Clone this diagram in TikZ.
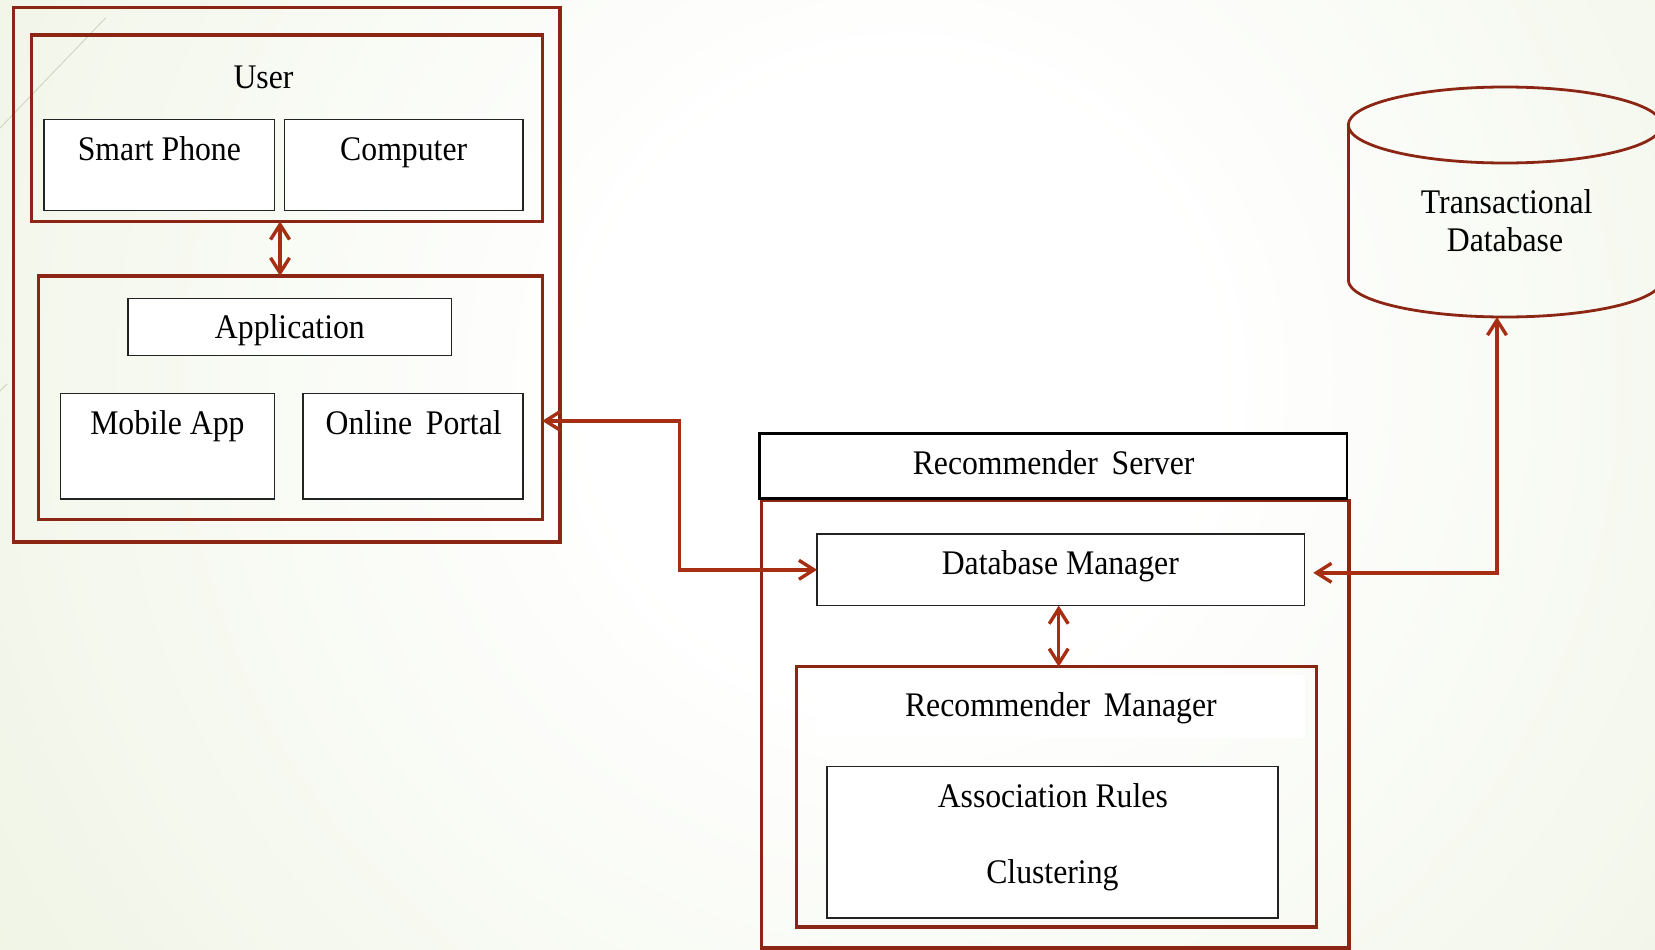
\documentclass[tikz,border=0pt]{standalone}
\usepackage{fontspec}
\setmainfont{Liberation Serif}[FakeStretch=0.92]
\usetikzlibrary{arrows.meta,calc,fit}

\definecolor{boxred}{RGB}{140,38,20}
\definecolor{arrred}{RGB}{166,46,18}
\definecolor{paper}{RGB}{230,238,214}
\definecolor{thinline}{RGB}{35,35,35}
\definecolor{decoline}{RGB}{200,210,188}

% wider gap used between some words
\newcommand{\widegap}{\hspace{0.4em}}

% soft glow: white in the middle, pale green towards the edges
\pgfdeclareradialshading{bgglow}{\pgfpoint{0bp}{0bp}}{%
  color(0bp)=(white); color(5bp)=(white); color(25bp)=(paper); color(50bp)=(paper)}

\begin{document}
\begin{tikzpicture}[x=1pt,y=-1pt,
  every node/.style={font=\fontsize{34.5}{40}\selectfont, inner sep=0pt, outer sep=0pt},
  label/.style={anchor=base, text=black},
  redframe/.style={draw=boxred, line width=3.3pt, rectangle, inner sep=0pt},
  whitebox/.style={draw=thinline, fill=white, line width=1.4pt, rectangle, inner sep=0pt},
  titlebox/.style={draw=black, fill=white, line width=2.8pt, rectangle, inner sep=0pt},
  link/.style={draw=arrred, line width=3.4pt,
    {Straight Barb[length=15pt,width=19pt]}-{Straight Barb[length=15pt,width=19pt]}},
]
\useasboundingbox (0,0) rectangle (1655,950);
\clip (0,0) rectangle (1655,950);

% background
\shade[shading=bgglow] (900,380) circle (1550pt);
\draw[decoline, line width=0.8pt] (105.5,18) -- (0,128);
\draw[decoline, line width=0.8pt] (7,384) -- (0,391);

% ---- client side ----
\node[redframe, fit={(13.4,7.4) (560,542)}] (client) {};
\node[redframe, fit={(31.8,35) (542.3,221.4)}] (userbox) {};
\node[label] (tuser) at (263.5,88.2) {User};
\node[whitebox, fit={(44,119.6) (274.4,210.7)}] (phone) {};
\node[label] (tphone) at (159.4,160.7) {Smart Phone};
\node[whitebox, fit={(284.3,119.6) (523.1,210.7)}] (computer) {};
\node[label] (tcomputer) at (403.7,160.7) {Computer};

\node[redframe, fit={(38.3,276) (542.3,519.8)}] (appgroup) {};
\node[whitebox, fit={(127.8,298.6) (451.6,355.4)}] (application) {};
\node[label] (tapplication) at (289.9,338.6) {Application};
\node[whitebox, fit={(60.5,393.6) (274.4,499)}] (mobile) {};
\node[label] (tmobile) at (167.4,434) {Mobile App};
\node[whitebox, fit={(303.1,393.6) (523.1,499)}] (portal) {};
\node[label] (tportal) at (413.7,434) {Online\widegap Portal};

% ---- server side ----
\node[redframe, fit={(761.7,500.5) (1349,948)}] (server) {};
\node[titlebox, fit={(759.8,433.5) (1347,498.8)}] (servertitle) {};
\node[label] (tserver) at (1053.6,474) {Recommender\widegap Server};

\node[whitebox, fit={(817.1,534) (1304.3,605.6)}] (dbm) {};
\node[label] (tdbm) at (1060.3,574.8) {Database Manager};

\node[redframe, fit={(796.5,666.8) (1316.5,927)}] (rmbox) {};
\node[fill=white, fit={(817,675.2) (1304.6,737.8)}] (rmstrip) {};
\node[label] (trm) at (1060.9,716.5) {Recommender\widegap Manager};
\node[whitebox, fit={(827,766.5) (1277.8,918)}] (algos) {};
\node[label] (tassoc) at (1052.8,807) {Association Rules};
\node[label] (tclust) at (1052.4,883.8) {Clustering};

% ---- transactional database (cylinder) ----
\begin{scope}[line width=2.8pt]
  \draw[boxred] (1505,125) ellipse [x radius=156.7pt, y radius=38pt];
  \draw[boxred] (1348.3,125) -- (1348.3,280);
  \draw[boxred] (1661.7,125) -- (1661.7,280);
  \begin{scope}
    \clip (1300,280) rectangle (1700,340);
    \draw[boxred] (1505,280) ellipse [x radius=156.7pt, y radius=37pt];
  \end{scope}
\end{scope}
\node[label] (ttrans) at (1506.7,213) {Transactional};
\node[label] (tdatabase) at (1505,251) {Database};
\coordinate (cylbot) at (1497,317);

% ---- connectors ----
\draw[link] ([xshift=-7pt]userbox.south) -- ([xshift=-7pt]userbox.south |- appgroup.north);
\coordinate (appport) at ([yshift=-23pt]appgroup.east);
\draw[link] (appport) -| ($(appport)!0.5!(dbm.west)$) |- (dbm.west);
\coordinate (dbport) at ([xshift=9pt,yshift=-3pt]dbm.east);
\draw[link] (dbport) -| (cylbot);
\draw[link] ([xshift=-2pt]dbm.south) -- ([xshift=-2pt]dbm.south |- rmbox.north);
\end{tikzpicture}
\end{document}
